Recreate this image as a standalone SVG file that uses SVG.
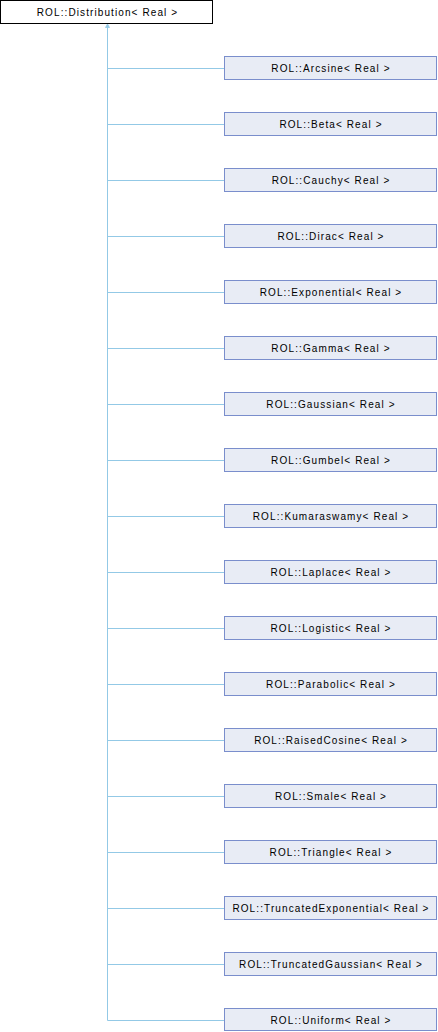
<svg xmlns="http://www.w3.org/2000/svg" width="438" height="1032" viewBox="0 0 438 1032">
<style>
.n{fill:#E8ECF5;stroke:#7A8ECC;stroke-width:1}
.r{fill:#FFFFFF;stroke:#000000;stroke-width:1}
.t{font-family:"Liberation Sans",Arial,sans-serif;font-size:10px;letter-spacing:1.1px;fill:#000000;text-anchor:middle}
.e{fill:none;stroke:#93C9E6;stroke-width:1}
</style>
<rect width="438" height="1032" fill="#FFFFFF"/>
<g id="edges">
<path class="e" d="M107.5,27 V1020.5"/>
<polygon points="107.5,24 105.5,27.5 109.5,27.5" fill="#93C9E6" stroke="#93C9E6" stroke-width="0.8"/>
<path class="e" d="M107.5,68.5 H224.5 M107.5,124.5 H224.5 M107.5,180.5 H224.5 M107.5,236.5 H224.5 M107.5,292.5 H224.5 M107.5,348.5 H224.5 M107.5,404.5 H224.5 M107.5,460.5 H224.5 M107.5,516.5 H224.5 M107.5,572.5 H224.5 M107.5,628.5 H224.5 M107.5,684.5 H224.5 M107.5,740.5 H224.5 M107.5,796.5 H224.5 M107.5,852.5 H224.5 M107.5,908.5 H224.5 M107.5,964.5 H224.5 M107.5,1020.5 H224.5"/>
</g>
<g id="root"><rect class="r" x="0.5" y="0.5" width="212" height="23"/><text class="t" x="107.5" y="15.5">ROL::Distribution&lt; Real &gt;</text></g>
<g id="arcsine"><rect class="n" x="224.5" y="56.5" width="212" height="23"/><text class="t" x="331" y="71.5">ROL::Arcsine&lt; Real &gt;</text></g>
<g id="beta"><rect class="n" x="224.5" y="112.5" width="212" height="23"/><text class="t" x="331" y="127.5">ROL::Beta&lt; Real &gt;</text></g>
<g id="cauchy"><rect class="n" x="224.5" y="168.5" width="212" height="23"/><text class="t" x="331" y="183.5">ROL::Cauchy&lt; Real &gt;</text></g>
<g id="dirac"><rect class="n" x="224.5" y="224.5" width="212" height="23"/><text class="t" x="331" y="239.5">ROL::Dirac&lt; Real &gt;</text></g>
<g id="exponential"><rect class="n" x="224.5" y="280.5" width="212" height="23"/><text class="t" x="331" y="295.5">ROL::Exponential&lt; Real &gt;</text></g>
<g id="gamma"><rect class="n" x="224.5" y="336.5" width="212" height="23"/><text class="t" x="331" y="351.5">ROL::Gamma&lt; Real &gt;</text></g>
<g id="gaussian"><rect class="n" x="224.5" y="392.5" width="212" height="23"/><text class="t" x="331" y="407.5">ROL::Gaussian&lt; Real &gt;</text></g>
<g id="gumbel"><rect class="n" x="224.5" y="448.5" width="212" height="23"/><text class="t" x="331" y="463.5">ROL::Gumbel&lt; Real &gt;</text></g>
<g id="kumaraswamy"><rect class="n" x="224.5" y="504.5" width="212" height="23"/><text class="t" x="331" y="519.5">ROL::Kumaraswamy&lt; Real &gt;</text></g>
<g id="laplace"><rect class="n" x="224.5" y="560.5" width="212" height="23"/><text class="t" x="331" y="575.5">ROL::Laplace&lt; Real &gt;</text></g>
<g id="logistic"><rect class="n" x="224.5" y="616.5" width="212" height="23"/><text class="t" x="331" y="631.5">ROL::Logistic&lt; Real &gt;</text></g>
<g id="parabolic"><rect class="n" x="224.5" y="672.5" width="212" height="23"/><text class="t" x="331" y="687.5">ROL::Parabolic&lt; Real &gt;</text></g>
<g id="raisedcosine"><rect class="n" x="224.5" y="728.5" width="212" height="23"/><text class="t" x="331" y="743.5">ROL::RaisedCosine&lt; Real &gt;</text></g>
<g id="smale"><rect class="n" x="224.5" y="784.5" width="212" height="23"/><text class="t" x="331" y="799.5">ROL::Smale&lt; Real &gt;</text></g>
<g id="triangle"><rect class="n" x="224.5" y="840.5" width="212" height="23"/><text class="t" x="331" y="855.5">ROL::Triangle&lt; Real &gt;</text></g>
<g id="truncatedexponential"><rect class="n" x="224.5" y="896.5" width="212" height="23"/><text class="t" x="331" y="911.5">ROL::TruncatedExponential&lt; Real &gt;</text></g>
<g id="truncatedgaussian"><rect class="n" x="224.5" y="952.5" width="212" height="23"/><text class="t" x="331" y="967.5">ROL::TruncatedGaussian&lt; Real &gt;</text></g>
<g id="uniform"><rect class="n" x="224.5" y="1008.5" width="212" height="22"/><text class="t" x="331" y="1023.5">ROL::Uniform&lt; Real &gt;</text></g>
</svg>
